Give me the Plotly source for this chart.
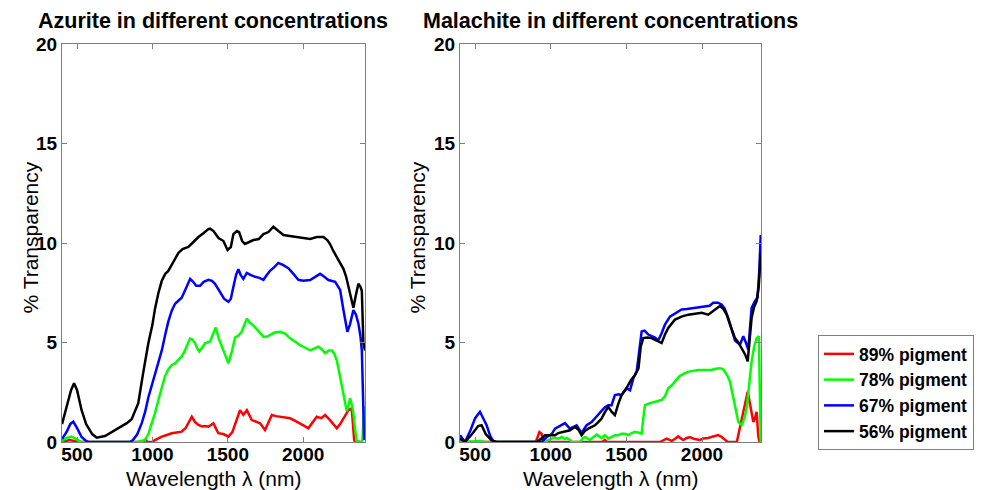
import plotly.graph_objects as go

# ---------------- data ----------------
series_names = ["89% pigment", "78% pigment", "67% pigment", "56% pigment"]
series_colors = ["#ff0000", "#00ff00", "#0000ff", "#000000"]
panel_titles = ["Azurite in different concentrations", "Malachite in different concentrations"]
x_ticks = [500, 1000, 1500, 2000]
y_ticks = [0, 5, 10, 15, 20]
x_label = "Wavelength \u03bb (nm)"
y_label = "% Transparency"

# Azurite
az89_nm = [400, 420, 450, 480, 510, 940, 955, 965, 1000, 1017, 1040, 1062, 1095, 1128, 1160, 1194, 1220, 1238, 1261, 1283, 1305, 1330, 1350, 1371, 1390, 1404, 1420, 1437, 1470, 1504, 1530, 1559, 1581, 1603, 1626, 1659, 1690, 1714, 1747, 1770, 1792, 1820, 1847, 1880, 1913, 1950, 1979, 2010, 2034, 2060, 2090, 2120, 2145, 2178, 2200, 2223, 2245, 2267, 2300, 2322, 2338, 2345]
az89_val = [0, 0.05, 0.1, 0.05, 0, 0, 0.15, 0, 0, 0.1, 0.2, 0.27, 0.35, 0.44, 0.48, 0.52, 0.7, 0.94, 1.27, 1.0, 0.86, 0.78, 0.8, 0.77, 0.85, 0.94, 0.7, 0.44, 0.4, 0.27, 0.5, 1.1, 1.6, 1.36, 1.6, 1.1, 1.0, 0.94, 0.6, 1.0, 1.36, 1.3, 1.27, 1.25, 1.19, 1.05, 0.94, 0.8, 0.69, 0.95, 1.27, 1.2, 1.36, 1.1, 0.9, 0.69, 0.9, 1.19, 1.6, 1.69, 0.1, 0]

az78_nm = [400, 430, 464, 490, 520, 540, 700, 900, 951, 973, 995, 1017, 1039, 1061, 1083, 1105, 1128, 1150, 1172, 1194, 1216, 1235, 1249, 1265, 1283, 1297, 1310, 1330, 1349, 1382, 1400, 1420, 1440, 1470, 1490, 1504, 1525, 1548, 1570, 1592, 1610, 1626, 1645, 1670, 1700, 1736, 1760, 1780, 1810, 1846, 1880, 1913, 1950, 1979, 2010, 2046, 2075, 2101, 2125, 2145, 2170, 2190, 2205, 2223, 2240, 2256, 2272, 2289, 2300, 2311, 2322, 2333, 2345, 2355, 2392, 2400, 2410]
az78_val = [0.05, 0.2, 0.27, 0.15, 0.03, 0, 0, 0, 0.1, 0.4, 0.94, 1.45, 2.1, 2.75, 3.3, 3.65, 3.87, 3.95, 4.1, 4.3, 4.6, 5.0, 5.2, 5.15, 4.96, 4.7, 4.55, 4.75, 4.96, 5.05, 5.35, 5.75, 5.2, 4.62, 4.2, 3.95, 4.5, 5.25, 5.35, 5.54, 5.9, 6.2, 6.0, 5.85, 5.6, 5.29, 5.3, 5.38, 5.5, 5.54, 5.45, 5.21, 5.0, 4.87, 4.75, 4.6, 4.7, 4.79, 4.65, 4.46, 4.6, 4.6, 4.45, 4.1, 3.45, 2.78, 2.1, 1.55, 1.8, 2.2, 1.9, 1.44, 0.6, 0.05, 0, 1.2, 1.8]

az67_nm = [400, 430, 455, 475, 500, 530, 560, 575, 700, 850, 871, 900, 929, 951, 973, 995, 1017, 1040, 1062, 1085, 1105, 1128, 1150, 1172, 1194, 1227, 1250, 1270, 1290, 1316, 1340, 1371, 1395, 1415, 1448, 1475, 1504, 1520, 1537, 1555, 1570, 1585, 1603, 1626, 1650, 1681, 1710, 1736, 1760, 1780, 1810, 1835, 1865, 1902, 1935, 1968, 2000, 2046, 2080, 2112, 2140, 2167, 2212, 2245, 2267, 2280, 2293, 2310, 2333, 2350, 2366, 2380, 2389, 2398, 2404]
az67_val = [0.15, 0.5, 0.9, 1.02, 0.7, 0.25, 0.05, 0, 0, 0, 0.1, 0.4, 0.95, 1.5, 2.25, 2.85, 3.4, 4.0, 4.6, 5.4, 6.05, 6.6, 6.95, 7.1, 7.25, 7.8, 8.2, 8.05, 7.85, 7.85, 8.05, 8.15, 8.1, 7.95, 7.5, 7.2, 7.05, 7.2, 7.8, 8.4, 8.68, 8.4, 8.2, 8.5, 8.4, 8.3, 8.25, 8.15, 8.4, 8.6, 8.8, 9.0, 8.9, 8.73, 8.45, 8.15, 8.1, 8.14, 8.3, 8.45, 8.3, 8.14, 8.05, 7.64, 6.63, 6.0, 5.54, 5.9, 6.63, 6.4, 5.96, 5.3, 4.6, 2.0, 0.1]

az56_nm = [400, 430, 460, 480, 500, 530, 560, 600, 630, 685, 740, 796, 830, 862, 906, 938, 973, 1000, 1017, 1040, 1062, 1085, 1105, 1139, 1172, 1200, 1238, 1272, 1305, 1340, 1371, 1382, 1405, 1438, 1471, 1498, 1520, 1537, 1560, 1575, 1595, 1614, 1640, 1670, 1705, 1736, 1770, 1802, 1836, 1869, 1910, 1957, 2000, 2046, 2090, 2134, 2160, 2178, 2200, 2223, 2245, 2267, 2285, 2300, 2318, 2333, 2350, 2366, 2380, 2389, 2399, 2410]
az56_val = [0.9, 1.8, 2.6, 2.95, 2.6, 1.6, 0.9, 0.4, 0.22, 0.3, 0.55, 0.77, 0.95, 1.15, 1.95, 3.45, 4.97, 5.9, 6.7, 7.5, 8.1, 8.45, 8.6, 9.05, 9.5, 9.7, 9.8, 10.05, 10.3, 10.5, 10.7, 10.72, 10.6, 10.25, 10.1, 9.65, 9.8, 10.45, 10.6, 10.55, 10.1, 9.95, 10.05, 10.15, 10.2, 10.45, 10.55, 10.82, 10.6, 10.4, 10.35, 10.3, 10.25, 10.2, 10.3, 10.3, 10.15, 9.95, 9.6, 9.3, 9.0, 8.7, 8.3, 7.8, 7.1, 6.75, 7.4, 7.95, 7.8, 7.6, 5.0, 4.6]

# Malachite
ma89_nm = [400, 430, 470, 520, 900, 911, 925, 940, 951, 960, 1340, 1358, 1370, 1722, 1745, 1766, 1788, 1799, 1820, 1843, 1865, 1876, 1900, 1920, 1950, 1986, 2010, 2041, 2074, 2107, 2130, 2151, 2170, 2230, 2240, 2255, 2273, 2290, 2302, 2320, 2339, 2350, 2361, 2372, 2380]
ma89_val = [0, 0, 0.03, 0, 0, 0.2, 0.5, 0.4, 0.05, 0, 0, 0.1, 0, 0, 0.1, 0.17, 0.1, 0.05, 0.15, 0.28, 0.15, 0.1, 0.2, 0.25, 0.15, 0.1, 0.18, 0.2, 0.28, 0.35, 0.25, 0.1, 0, 0, 0.34, 0.9, 1.52, 2.2, 2.53, 1.8, 1.01, 1.2, 1.52, 0.3, 0]

ma78_nm = [400, 540, 560, 962, 985, 1006, 1028, 1050, 1072, 1094, 1105, 1127, 1138, 1193, 1215, 1226, 1259, 1280, 1303, 1336, 1358, 1380, 1402, 1424, 1446, 1468, 1490, 1512, 1535, 1557, 1590, 1601, 1612, 1623, 1656, 1689, 1711, 1733, 1755, 1777, 1800, 1821, 1850, 1887, 1920, 1975, 2020, 2063, 2090, 2118, 2140, 2151, 2170, 2185, 2207, 2225, 2240, 2262, 2280, 2295, 2310, 2328, 2345, 2361, 2376, 2383, 2388]
ma78_val = [0, 0.05, 0, 0, 0.1, 0.17, 0.2, 0.17, 0.25, 0.15, 0.2, 0.1, 0, 0, 0.2, 0.25, 0.1, 0.25, 0.37, 0.2, 0.34, 0.17, 0.25, 0.34, 0.34, 0.42, 0.42, 0.34, 0.45, 0.51, 0.45, 0.42, 1.2, 1.85, 1.95, 2.02, 2.05, 2.11, 2.3, 2.7, 2.85, 3.03, 3.3, 3.46, 3.55, 3.62, 3.62, 3.62, 3.68, 3.71, 3.65, 3.54, 3.3, 3.03, 2.19, 1.5, 1.01, 0.84, 1.2, 1.69, 2.8, 4.05, 4.8, 5.22, 5.31, 3.0, 0]

ma67_nm = [400, 433, 470, 500, 532, 555, 576, 600, 620, 640, 940, 973, 1006, 1028, 1050, 1094, 1127, 1150, 1171, 1204, 1237, 1270, 1303, 1336, 1358, 1380, 1402, 1424, 1450, 1468, 1501, 1524, 1546, 1568, 1585, 1601, 1620, 1645, 1689, 1711, 1735, 1755, 1788, 1832, 1865, 1900, 1953, 1990, 2019, 2050, 2074, 2105, 2129, 2150, 2173, 2195, 2218, 2251, 2273, 2290, 2306, 2320, 2328, 2350, 2367, 2378, 2388]
ma67_val = [0.34, 0, 0.6, 1.2, 1.52, 1.2, 0.84, 0.3, 0.05, 0, 0, 0.25, 0.4, 0.67, 0.75, 0.95, 0.67, 0.75, 0.84, 0.45, 0.84, 1.0, 1.3, 1.6, 1.75, 1.85, 1.85, 2.36, 2.4, 2.35, 2.7, 2.6, 3.2, 3.54, 4.6, 5.56, 5.6, 5.4, 5.25, 5.1, 5.5, 5.9, 6.3, 6.5, 6.66, 6.68, 6.74, 6.8, 6.83, 6.85, 7.0, 7.0, 6.91, 6.7, 6.24, 5.7, 5.1, 4.89, 5.31, 5.0, 4.64, 6.0, 6.74, 7.08, 7.25, 8.5, 10.4]

ma56_nm = [400, 433, 480, 520, 543, 570, 609, 640, 911, 940, 962, 1000, 1028, 1050, 1072, 1100, 1127, 1160, 1185, 1204, 1225, 1248, 1270, 1292, 1314, 1336, 1358, 1380, 1402, 1424, 1446, 1468, 1500, 1530, 1557, 1580, 1595, 1612, 1640, 1667, 1700, 1733, 1755, 1777, 1821, 1865, 1909, 1950, 1998, 2041, 2080, 2118, 2140, 2163, 2190, 2218, 2240, 2262, 2285, 2302, 2315, 2328, 2345, 2361, 2375, 2383, 2388]
ma56_val = [0.17, 0, 0.4, 0.8, 0.84, 0.4, 0.08, 0, 0, 0.2, 0.34, 0.34, 0.34, 0.45, 0.5, 0.55, 0.59, 0.76, 0.6, 0.34, 0.55, 0.67, 0.75, 0.84, 1.0, 1.18, 1.5, 1.77, 1.52, 1.35, 1.9, 2.36, 2.7, 3.1, 3.37, 3.7, 4.8, 5.22, 5.25, 5.22, 5.1, 4.97, 5.4, 5.73, 6.15, 6.3, 6.4, 6.45, 6.49, 6.4, 6.6, 6.83, 6.7, 6.4, 5.8, 5.22, 5.0, 4.72, 4.4, 4.05, 5.2, 6.24, 6.8, 7.08, 7.8, 8.77, 9.5]

azurite = [(az89_nm, az89_val), (az78_nm, az78_val), (az67_nm, az67_val), (az56_nm, az56_val)]
malachite = [(ma89_nm, ma89_val), (ma78_nm, ma78_val), (ma67_nm, ma67_val), (ma56_nm, ma56_val)]

# ---------------- figure ----------------
W, H = 987, 490
FONT = "Liberation Sans, Arial, Helvetica, sans-serif"
AXIS_GRAY = "#7f7f7f"

fig = go.Figure()
for panel, (data, xa, ya) in enumerate([(azurite, "x", "y"), (malachite, "x2", "y2")]):
    for i, (nm, val) in enumerate(data):
        fig.add_trace(go.Scatter(
            x=nm, y=val, mode="lines", xaxis=xa, yaxis=ya,
            name=series_names[i], legendgroup=series_names[i],
            showlegend=(panel == 0),
            line=dict(color=series_colors[i], width=2.5),
        ))

def px_x(p):
    return p / W

def px_y(p):
    return 1 - p / H

left_dom = [px_x(62), px_x(365)]
right_dom = [px_x(460), px_x(761)]
y_dom = [px_y(442), px_y(44)]

common_x = dict(
    tickvals=x_ticks, ticks="inside", ticklen=5, tickcolor=AXIS_GRAY,
    showline=True, linecolor=AXIS_GRAY, linewidth=1, mirror="ticks",
    showgrid=False, zeroline=False, automargin=False, ticklabelstandoff=-5,
    tickfont=dict(family=FONT, size=19, color="#000000", weight="bold"),
)
common_y = dict(
    tickvals=y_ticks, range=[0, 20], ticks="inside", ticklen=5, tickcolor=AXIS_GRAY,
    showline=True, linecolor=AXIS_GRAY, linewidth=1, mirror="ticks",
    showgrid=False, zeroline=False, automargin=False,
    tickfont=dict(family=FONT, size=19, color="#000000", weight="bold"),
)

fig.update_layout(
    width=W, height=H,
    margin=dict(l=0, r=0, t=0, b=0, autoexpand=False),
    paper_bgcolor="white", plot_bgcolor="white",
    font=dict(family=FONT, color="#000000"),
    xaxis=dict(domain=left_dom, range=[400, 2410], anchor="y", **common_x),
    yaxis=dict(domain=y_dom, anchor="x", **common_y),
    xaxis2=dict(domain=right_dom, range=[400, 2390], anchor="y2", **common_x),
    yaxis2=dict(domain=y_dom, anchor="x2", **common_y),
    legend=dict(
        x=px_x(818), y=px_y(335), xanchor="left", yanchor="top",
        bgcolor="white", bordercolor=AXIS_GRAY, borderwidth=1,
        font=dict(family=FONT, size=17.5, color="#000000", weight="bold"),
        itemwidth=30, tracegroupgap=0,
    ),
    showlegend=True,
)

annotations = []
# Panel titles
for title, dom in zip(panel_titles, [left_dom, right_dom]):
    annotations.append(dict(
        text=title, xref="paper", yref="paper",
        x=(dom[0] + dom[1]) / 2, y=px_y(21), xanchor="center", yanchor="middle",
        showarrow=False, font=dict(family=FONT, size=21.5, color="#000000", weight="bold"),
    ))
# X labels
for dom in [left_dom, right_dom]:
    annotations.append(dict(
        text=x_label, xref="paper", yref="paper",
        x=(dom[0] + dom[1]) / 2, y=px_y(478), xanchor="center", yanchor="middle",
        showarrow=False, font=dict(family=FONT, size=21, color="#000000"),
    ))
# Y labels
for xc in [29.5, 416.5]:
    annotations.append(dict(
        text=y_label, xref="paper", yref="paper", textangle=-90,
        x=px_x(xc), y=px_y(238), xanchor="center", yanchor="middle",
        showarrow=False, font=dict(family=FONT, size=21, color="#000000"),
    ))
fig.update_layout(annotations=annotations)

fig.write_html("out.html")
